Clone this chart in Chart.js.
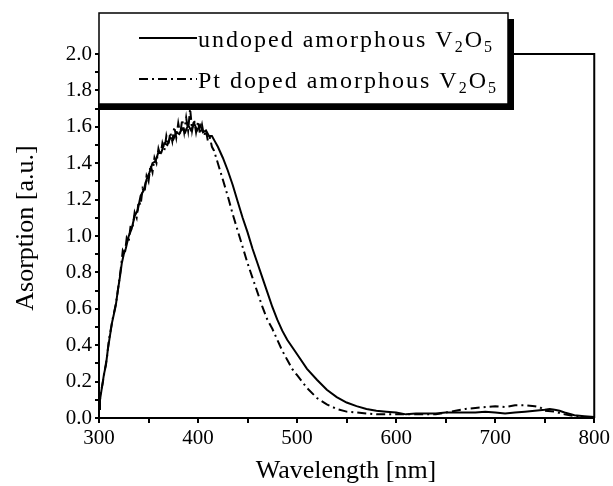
<!DOCTYPE html>
<html>
<head>
<meta charset="utf-8">
<script src="https://cdn.jsdelivr.net/npm/chart.js@4/dist/chart.umd.min.js"></script>
<style>
  html, body { margin: 0; padding: 0; background: #fff; }
  #wrap { width: 613px; height: 486px; position: relative; }
</style>
</head>
<body>
<div id="wrap"><canvas id="c" width="613" height="486"></canvas></div>
<script>
// ---- data ----
const seriesNames = ["undoped amorphous V", "Pt doped amorphous V"];
const xTitle = "Wavelength [nm]";
const yTitle = "Asorption [a.u.]";
const xTickLabels = [300, 400, 500, 600, 700, 800];
const yTickLabels = [0.0, 0.2, 0.4, 0.6, 0.8, 1.0, 1.2, 1.4, 1.6, 1.8, 2.0];

const lambdaUndoped = [300,301,303,305,307,309,311,313,315,317,319,321,323,325,327,
  330,333,336,339,342,345,348,351,354,357,360,363,366,369,372,375,378,381,384,387,390,393,396,399,402,405,408,411,414,417,420,
  425,430,435,440,445,450,455,460,465,470,475,480,485,490,495,500,
  510,520,530,540,550,560,570,580,590,600,
  610,620,640,650,660,680,690,700,710,720,730,740,750,755,760,765,770,780,790,800];
const absUndoped = [0.05,0.10,0.17,0.24,0.29,0.38,0.45,0.52,0.57,0.62,0.70,0.77,0.85,0.90,0.93,
  1.00,1.04,1.11,1.14,1.22,1.25,1.31,1.35,1.40,1.41,1.46,1.46,1.51,1.50,1.54,1.53,1.57,1.56,1.59,1.57,1.61,1.58,1.62,1.58,1.61,1.57,1.58,1.55,1.55,1.52,1.49,
  1.43,1.36,1.28,1.19,1.10,1.02,0.93,0.85,0.77,0.69,0.61,0.54,0.48,0.43,0.39,0.35,
  0.27,0.21,0.155,0.115,0.085,0.065,0.05,0.04,0.035,0.03,
  0.02,0.025,0.025,0.03,0.03,0.03,0.035,0.03,0.025,0.03,0.035,0.04,0.045,0.05,0.045,0.04,0.03,0.015,0.01,0.005];

const lambdaPt = [300,302,304,306,308,310,312,314,316,318,320,322,324,
  326,328,330,332,334,336,338,340,342,344,346,348,350,352,354,356,358,360,362,364,366,368,370,372,374,376,378,380,382,384,386,388,390,392,394,396,398,400,402,404,406,408,410,412,414,416,
  420,425,430,435,440,445,450,455,460,465,470,475,480,485,490,495,500,
  510,520,530,540,550,560,570,580,
  600,620,640,660,670,680,690,700,710,720,730,740,745,750,760,770,780,790,800];
const absPt = [0.06,0.14,0.20,0.27,0.33,0.43,0.49,0.55,0.60,0.66,0.74,0.82,0.92,
  0.90,0.99,0.97,1.06,1.05,1.13,1.10,1.19,1.17,1.26,1.24,1.33,1.30,1.39,1.35,1.43,1.40,1.48,1.44,1.51,1.47,1.55,1.50,1.57,1.52,1.60,1.54,1.62,1.56,1.64,1.57,1.65,1.58,1.70,1.58,1.64,1.57,1.63,1.56,1.61,1.55,1.58,1.52,1.54,1.49,1.47,
  1.40,1.31,1.22,1.12,1.03,0.94,0.85,0.77,0.69,0.61,0.54,0.49,0.43,0.37,0.32,0.27,0.235,
  0.165,0.11,0.075,0.05,0.035,0.03,0.025,0.02,
  0.02,0.02,0.02,0.04,0.05,0.055,0.06,0.065,0.06,0.07,0.07,0.065,0.06,0.04,0.035,0.02,0.01,0.005,0.0];

// ---- build chart ----
const FONT = '"Liberation Serif", "Times New Roman", serif';
const toXY = (xs, ys) => xs.map((x, i) => ({ x: x, y: ys[i] }));

const framePlugin = {
  id: 'framePlugin',
  afterDraw(chart) {
    const ctx = chart.ctx;
    const a = chart.chartArea;
    ctx.save();
    // top and right frame lines
    ctx.strokeStyle = '#000';
    ctx.lineWidth = 2;
    ctx.beginPath();
    ctx.moveTo(a.left, a.top);
    ctx.lineTo(a.right, a.top);
    ctx.lineTo(a.right, a.bottom);
    ctx.stroke();

    // legend box with shadow
    const bx = 99, by = 13, bw = 409, bh = 91;
    ctx.fillStyle = '#000';
    ctx.fillRect(bx + bw, by + 6, 6, bh);
    ctx.fillRect(bx, by + bh, bw + 6, 6);
    ctx.fillStyle = '#fff';
    ctx.fillRect(bx, by, bw, bh);
    ctx.lineWidth = 1.5;
    ctx.strokeStyle = '#000';
    ctx.strokeRect(bx, by, bw, bh);

    const ds = chart.data.datasets;
    const rows = [{ y: 40, ds: ds[0] }, { y: 81, ds: ds[1] }];
    ctx.fillStyle = '#000';
    rows.forEach(r => {
      ctx.save();
      ctx.lineWidth = 2;
      ctx.setLineDash(r.ds.borderDash || []);
      ctx.beginPath();
      ctx.moveTo(139, r.y - 2);
      ctx.lineTo(197, r.y - 2);
      ctx.stroke();
      ctx.restore();
      ctx.textBaseline = 'alphabetic';
      ctx.textAlign = 'left';
      ctx.letterSpacing = '2px';
      ctx.font = '24px ' + FONT;
      let x = 198;
      const base = r.y + 7;
      ctx.fillText(r.ds.label, x, base);
      x += ctx.measureText(r.ds.label).width;
      ctx.font = '16px ' + FONT;
      ctx.fillText('2', x, base + 5);
      x += ctx.measureText('2').width;
      ctx.font = '24px ' + FONT;
      ctx.fillText('O', x, base);
      x += ctx.measureText('O').width;
      ctx.font = '16px ' + FONT;
      ctx.fillText('5', x, base + 5);
    });

    // axis titles
    ctx.letterSpacing = '0px';
    ctx.font = '26px ' + FONT;
    ctx.textAlign = 'center';
    ctx.textBaseline = 'alphabetic';
    ctx.fillText(xTitle, 346, 478);
    ctx.translate(26, 228);
    ctx.rotate(-Math.PI / 2);
    ctx.textBaseline = 'middle';
    ctx.fillText(yTitle, 0, 0);
    ctx.restore();
  }
};

new Chart(document.getElementById('c'), {
  type: 'line',
  data: {
    datasets: [
      {
        label: seriesNames[0],
        data: toXY(lambdaUndoped, absUndoped),
        borderColor: '#000',
        borderWidth: 2,
        pointRadius: 0,
        tension: 0,
        fill: false
      },
      {
        label: seriesNames[1],
        data: toXY(lambdaPt, absPt),
        borderColor: '#000',
        borderWidth: 2,
        borderDash: [9, 4, 2, 4],
        pointRadius: 0,
        tension: 0,
        fill: false
      }
    ]
  },
  options: {
    responsive: false,
    animation: false,
    events: [],
    layout: { padding: { left: 0, top: 54, right: 17, bottom: 0 } },
    plugins: { legend: { display: false }, tooltip: { enabled: false }, title: { display: false } },
    scales: {
      x: {
        type: 'linear',
        min: 300, max: 800,
        afterFit(s) { s.height = 68; },
        afterBuildTicks(s) {
          const t = [];
          for (let v = xTickLabels[0]; v <= xTickLabels[xTickLabels.length - 1]; v += 50) t.push({ value: v });
          s.ticks = t;
        },
        ticks: {
          autoSkip: false,
          maxRotation: 0,
          padding: 3,
          color: '#000',
          font: { family: FONT, size: 21 },
          callback: (v) => (xTickLabels.includes(v) ? String(v) : '')
        },
        grid: { drawOnChartArea: false, drawTicks: true, tickLength: 5, color: '#000', lineWidth: 2 },
        border: { display: true, color: '#000', width: 2 }
      },
      y: {
        type: 'linear',
        min: 0, max: 2.0,
        afterFit(s) { s.width = 99; },
        afterBuildTicks(s) {
          const t = [];
          for (let i = 0; i <= 20; i++) t.push({ value: i / 10 });
          s.ticks = t;
        },
        ticks: {
          autoSkip: false,
          padding: 3,
          color: '#000',
          font: { family: FONT, size: 21 },
          callback: (v) => {
            const k = Math.round(v * 10);
            return k % 2 === 0 ? yTickLabels[k / 2].toFixed(1) : '';
          }
        },
        grid: { drawOnChartArea: false, drawTicks: true, tickLength: 4, color: '#000', lineWidth: 2 },
        border: { display: true, color: '#000', width: 2 }
      }
    }
  },
  plugins: [framePlugin]
});
</script>
</body>
</html>
